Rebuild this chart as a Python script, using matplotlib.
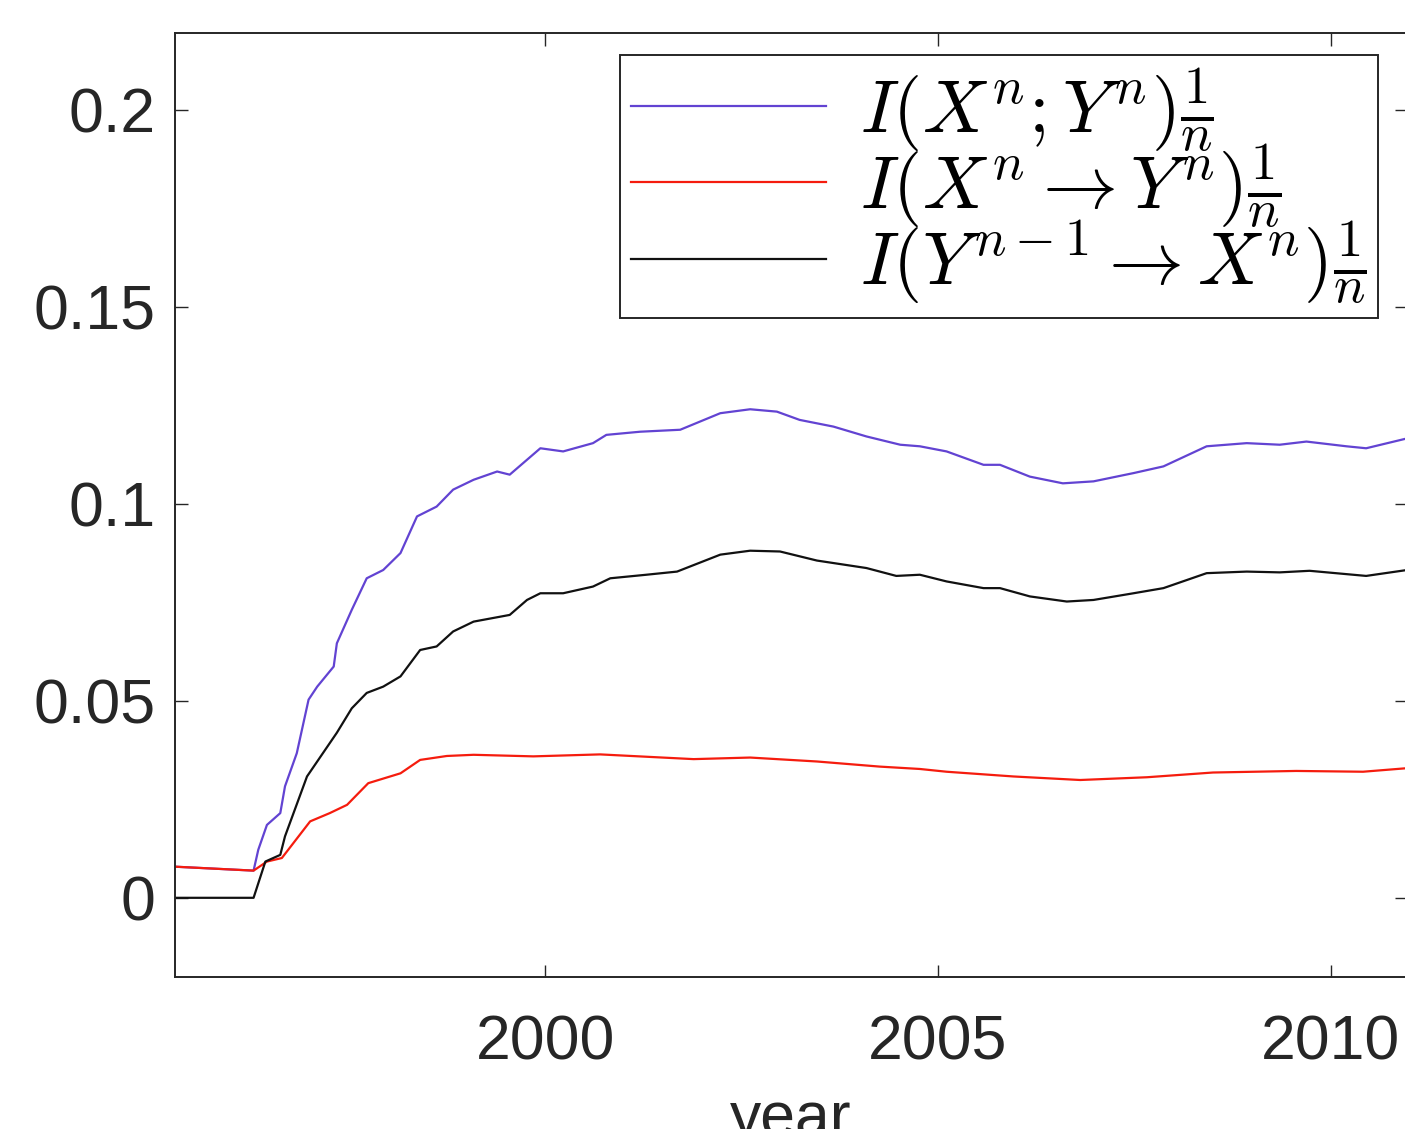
import matplotlib
matplotlib.use("Agg")
import matplotlib.pyplot as plt
from matplotlib.ticker import FixedLocator

plt.rcParams['font.family'] = ['Liberation Sans', 'DejaVu Sans']
plt.rcParams['mathtext.fontset'] = 'cm'

# ---- data ----
years_mi = [1995.29, 1996.29, 1996.35, 1996.46, 1996.63, 1996.69, 1996.84, 1996.99, 1997.10,
            1997.31, 1997.35, 1997.54, 1997.73, 1997.94, 1998.16, 1998.37, 1998.62, 1998.83,
            1999.09, 1999.39, 1999.55, 1999.94, 2000.23, 2000.61, 2000.78, 2001.21, 2001.72,
            2002.23, 2002.61, 2002.95, 2003.24, 2003.67, 2004.09, 2004.52, 2004.77, 2005.11,
            2005.58, 2005.79, 2006.17, 2006.59, 2006.98, 2007.49, 2007.87, 2008.42, 2008.93,
            2009.35, 2009.69, 2010.20, 2010.45, 2010.97]
mutual_info = [0.0079, 0.0069, 0.0122, 0.0185, 0.0215, 0.0283, 0.0367, 0.0503, 0.0536,
               0.0587, 0.0646, 0.0731, 0.0811, 0.0832, 0.0875, 0.0968, 0.0993, 0.1036,
               0.1061, 0.1082, 0.1074, 0.1141, 0.1133, 0.1154, 0.1175, 0.1183, 0.1188,
               0.1230, 0.1240, 0.1234, 0.1213, 0.1196, 0.1171, 0.1150, 0.1146, 0.1133,
               0.1099, 0.1099, 0.1069, 0.1052, 0.1057, 0.1078, 0.1095, 0.1146, 0.1154,
               0.1150, 0.1158, 0.1146, 0.1141, 0.1166]

years_xy = [1995.29, 1996.29, 1996.46, 1996.65, 1997.01, 1997.26, 1997.48, 1997.75, 1998.16,
            1998.41, 1998.75, 1999.09, 1999.85, 2000.70, 2001.89, 2002.61, 2003.46, 2004.26,
            2004.77, 2005.11, 2005.96, 2006.81, 2007.66, 2008.50, 2009.56, 2010.41, 2010.97]
directed_xy = [0.0079, 0.0069, 0.0092, 0.0101, 0.0194, 0.0215, 0.0236, 0.0291, 0.0316,
               0.0350, 0.0360, 0.0363, 0.0359, 0.0364, 0.0352, 0.0356, 0.0346, 0.0333,
               0.0327, 0.0320, 0.0308, 0.0299, 0.0306, 0.0318, 0.0322, 0.0320, 0.0329]

years_yx = [1995.29, 1996.29, 1996.44, 1996.63, 1996.69, 1996.97, 1997.35, 1997.54, 1997.73,
            1997.94, 1998.16, 1998.41, 1998.62, 1998.83, 1999.09, 1999.55, 1999.77, 1999.94,
            2000.23, 2000.61, 2000.83, 2001.29, 2001.68, 2002.23, 2002.61, 2002.99, 2003.46,
            2004.09, 2004.47, 2004.77, 2005.11, 2005.58, 2005.79, 2006.17, 2006.64, 2006.98,
            2007.49, 2007.87, 2008.42, 2008.93, 2009.35, 2009.73, 2010.45, 2010.97]
directed_yx = [0.0000, 0.0000, 0.0092, 0.0109, 0.0156, 0.0308, 0.0419, 0.0481, 0.0520,
               0.0536, 0.0562, 0.0629, 0.0638, 0.0676, 0.0701, 0.0718, 0.0756, 0.0773,
               0.0773, 0.0790, 0.0811, 0.0820, 0.0828, 0.0871, 0.0881, 0.0879, 0.0856,
               0.0837, 0.0817, 0.0820, 0.0803, 0.0786, 0.0786, 0.0765, 0.0752, 0.0756,
               0.0773, 0.0786, 0.0824, 0.0828, 0.0826, 0.0830, 0.0817, 0.0832]

labels = [r'$I(X^n;Y^n)\frac{1}{n}$',
          r'$I(X^n\rightarrow Y^n)\frac{1}{n}$',
          r'$I(Y^{n-1}\rightarrow X^n)\frac{1}{n}$']
colors = ['#6243d2', '#f51c0e', '#111111']

xticks = [2000, 2005, 2010]
yticks = [0, 0.05, 0.1, 0.15, 0.2]
ytick_labels = ['0', '0.05', '0.1', '0.15', '0.2']

W, H = 1405, 1129
fig = plt.figure(figsize=(W / 100, H / 100), dpi=100)
ax = fig.add_axes([175 / W, 1 - 977 / H, (1407 - 175) / W, (977 - 33) / H])

ax.plot(years_mi, mutual_info, color=colors[0], lw=1.6, label=labels[0])
ax.plot(years_xy, directed_xy, color=colors[1], lw=1.6, label=labels[1])
ax.plot(years_yx, directed_yx, color=colors[2], lw=1.6, label=labels[2])

ax.set_xlim(1995.29, 2010.97)
ax.set_ylim(-0.0201, 0.2195)
ax.xaxis.set_major_locator(FixedLocator(xticks))
ax.set_xticklabels([str(x) for x in xticks])
ax.yaxis.set_major_locator(FixedLocator(yticks))
ax.set_yticklabels(ytick_labels)
ax.tick_params(direction='in', length=9, width=1.0, top=True, right=True,
               labelsize=45, colors='#262626')
ax.tick_params(axis='y', pad=14)
ax.tick_params(axis='x', pad=26)
for s in ax.spines.values():
    s.set_linewidth(1.4)
    s.set_color('#262626')

ax.set_xlabel('year', fontsize=45, color='#262626', labelpad=13)

leg = ax.legend(loc='upper left',
                bbox_to_anchor=((620 - 175) / (1407 - 175), 1 - (55 - 33) / (977 - 33)),
                fontsize=54, frameon=True, fancybox=False, framealpha=1,
                edgecolor='#262626', handlelength=2.6, handletextpad=0.45,
                labelspacing=-0.15, borderpad=0.15, borderaxespad=0)
leg.get_frame().set_linewidth(1.4)

fig.savefig('out.png', dpi=100)
